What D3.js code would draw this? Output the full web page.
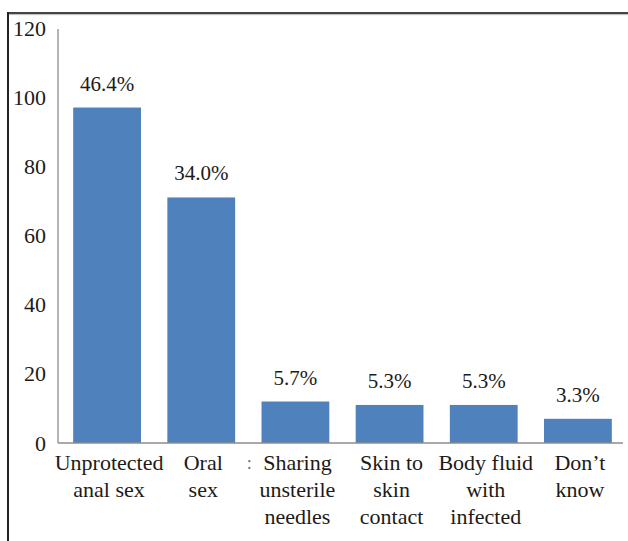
<!DOCTYPE html>
<html>
<head>
<meta charset="utf-8">
<script src="https://cdn.jsdelivr.net/npm/d3@7"></script>
<style>
  html, body { margin: 0; padding: 0; background: #fff; }
  svg { display: block; }
</style>
</head>
<body>
<svg id="chart" width="628" height="541" font-family="Liberation Serif"></svg>
<script>
// Modes of transmission: respondent counts and their shares
const categories = [
  ["Unprotected", "anal sex"],
  ["Oral", "sex"],
  ["Sharing", "unsterile", "needles"],
  ["Skin to", "skin", "contact"],
  ["Body fluid", "with", "infected"],
  ["Don\u2019t", "know"]
];
const counts = [97, 71, 12, 11, 11, 7];
const shares = ["46.4%", "34.0%", "5.7%", "5.3%", "5.3%", "3.3%"];
const yTicks = [0, 20, 40, 60, 80, 100, 120];

const SERIF = "Liberation Serif";
const INK = "#1e1a16";

const svg = d3.select("#chart");
const W = 628, H = 541;
const plotLeft = 58, plotRight = 623, plotBottom = 443, plotTop = 28;

// frame lines (top and left)
svg.append("line").attr("x1", 7).attr("x2", W).attr("y1", 13).attr("y2", 13)
  .attr("stroke", "#444").attr("stroke-width", 2.2);
svg.append("line").attr("x1", 7).attr("x2", W).attr("y1", 14.6).attr("y2", 14.6)
  .attr("stroke", "#bbb").attr("stroke-width", 1);
svg.append("line").attr("x1", 8).attr("x2", 8).attr("y1", 12).attr("y2", H)
  .attr("stroke", "#222").attr("stroke-width", 2);

const keys = categories.map(c => c.join(" "));
const x = d3.scaleBand().domain(keys).range([plotLeft, plotRight])
  .paddingInner(0.28).paddingOuter(0.14);
const y = d3.scaleLinear().domain([0, 120]).range([plotBottom, plotTop]);

// y axis: labels only, plain line
const yAxis = d3.axisLeft(y).tickValues(yTicks).tickSize(0).tickPadding(12);
const gy = svg.append("g").attr("transform", `translate(${plotLeft},0)`).call(yAxis)
  .attr("font-family", SERIF).attr("font-size", 22);
gy.select(".domain").attr("stroke", "#8c8c8c").attr("stroke-width", 1.3)
  .attr("d", `M0,${y(120) + 1}V${plotBottom}`);
gy.selectAll("text").attr("fill", INK);

// bars
svg.append("g").selectAll("rect").data(counts).join("rect")
  .attr("x", (d, i) => x(keys[i]) + 2)
  .attr("y", d => y(d))
  .attr("width", x.bandwidth())
  .attr("height", d => y(0) - y(d))
  .attr("fill", "#4f81bd");

// x axis line
svg.append("line").attr("x1", plotLeft).attr("x2", plotRight)
  .attr("y1", plotBottom).attr("y2", plotBottom)
  .attr("stroke", "#8c8c8c").attr("stroke-width", 1.3);

// share labels above bars
svg.append("g").attr("font-family", SERIF).attr("font-size", 21).attr("fill", INK)
  .selectAll("text").data(counts).join("text")
  .attr("x", (d, i) => x(keys[i]) + x.bandwidth() / 2 + 2)
  .attr("y", d => y(d) - 17)
  .attr("text-anchor", "middle")
  .text((d, i) => shares[i]);

// category labels, one tspan per line
const cat = svg.append("g").attr("font-family", SERIF).attr("font-size", 22).attr("fill", INK)
  .selectAll("text").data(categories).join("text")
  .attr("x", (d, i) => x(keys[i]) + x.bandwidth() / 2 + 4)
  .attr("y", plotBottom + 27)
  .attr("text-anchor", "middle");
cat.selectAll("tspan").data(d => d).join("tspan")
  .attr("x", function () { return d3.select(this.parentNode).attr("x"); })
  .attr("dy", (d, i) => i === 0 ? 0 : 27)
  .text(d => d);

// small separator mark between the second and third categories
svg.append("text")
  .attr("x", (x(keys[1]) + x.bandwidth() + x(keys[2])) / 2 + 3)
  .attr("y", plotBottom + 26)
  .attr("text-anchor", "middle")
  .attr("font-family", SERIF).attr("font-size", 18)
  .attr("fill", "#5d74a0")
  .text(":");
</script>
</body>
</html>
